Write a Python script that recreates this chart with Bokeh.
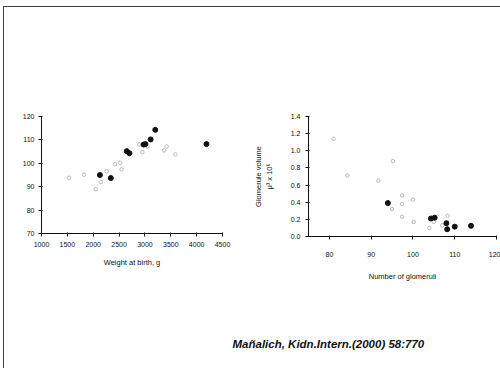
from bokeh.plotting import figure
from bokeh.layouts import row, column
from bokeh.models import FixedTicker, NumeralTickFormatter, Label
from bokeh.embed import file_html
from bokeh.resources import INLINE

# ---- data: left panel (weight at birth vs. y) ----
left_filled_w = [2130, 2340, 2650, 2700, 2975, 3010, 3110, 3200, 4190]
left_filled_y = [95.0, 93.7, 105.2, 104.3, 108.0, 108.2, 110.2, 114.3, 108.2]
left_open_w = [1530, 1820, 2050, 2150, 2260, 2420, 2520, 2550, 2890, 2950, 3050, 3370, 3420, 3590]
left_open_y = [93.8, 95.1, 88.9, 92.0, 96.6, 99.6, 100.2, 97.4, 108.0, 104.8, 107.2, 105.5, 107.2, 103.8]
left_xticks = [1000, 1500, 2000, 2500, 3000, 3500, 4000, 4500]
left_yticks = [70, 80, 90, 100, 110, 120]

# ---- data: right panel (number of glomeruli vs. glomerular volume) ----
right_filled_n = [94.0, 104.3, 105.2, 108.0, 108.2, 110.0, 113.9]
right_filled_v = [0.39, 0.21, 0.22, 0.155, 0.085, 0.115, 0.125]
right_open_n = [81.0, 84.3, 95.2, 91.7, 97.4, 100.0, 97.4, 95.0, 97.4, 100.2, 108.3, 103.9, 107.0, 105.0]
right_open_v = [1.14, 0.71, 0.88, 0.65, 0.48, 0.43, 0.38, 0.32, 0.23, 0.17, 0.24, 0.10, 0.13, 0.17]
right_xticks = [80, 90, 100, 110, 120]
right_yticks = [0.0, 0.2, 0.4, 0.6, 0.8, 1.0, 1.2, 1.4]

FONT = "Liberation Sans"


def style(p):
    p.grid.visible = False
    p.outline_line_color = None
    p.background_fill_color = None
    p.border_fill_color = None
    for ax in (p.xaxis[0], p.yaxis[0]):
        ax.axis_line_color = "#111111"
        ax.axis_line_width = 1
        ax.major_tick_line_color = "#111111"
        ax.major_tick_out = 3
        ax.major_tick_in = 1
        ax.minor_tick_line_color = None
        ax.major_label_text_font = FONT
        ax.major_label_text_font_size = "7px"
        ax.major_label_text_color = "#111111"
        ax.axis_label_text_font = FONT
        ax.axis_label_text_font_size = "7.5px"
        ax.axis_label_text_font_style = "normal"
        ax.axis_label_text_color = "#111111"


# left figure
pl = figure(frame_width=181, frame_height=117, min_border_left=37, min_border_right=26,
            min_border_top=107, min_border_bottom=61,
            x_range=(1000, 4500), y_range=(70, 120),
            output_backend="svg", toolbar_location=None)
style(pl)
pl.xaxis.ticker = FixedTicker(ticks=left_xticks)
pl.yaxis.ticker = FixedTicker(ticks=left_yticks)
pl.xaxis.axis_label = "Weight at birth, g"
pl.xaxis.major_label_standoff = 5
pl.xaxis.axis_label_standoff = 8
pl.yaxis.major_label_standoff = 4
pl.scatter(left_open_w, left_open_y, marker="circle", size=3.5, fill_color=None,
           line_color="#ababab", line_width=0.8)
pl.scatter(left_filled_w, left_filled_y, marker="circle", size=5, fill_color="#111111",
           line_color="#111111")

# right figure
pr = figure(frame_width=188, frame_height=120, min_border_left=60, min_border_right=4,
            min_border_top=109, min_border_bottom=56,
            x_range=(75, 120), y_range=(0, 1.4),
            output_backend="svg", toolbar_location=None)
style(pr)
pr.xaxis.ticker = FixedTicker(ticks=right_xticks)
pr.yaxis.ticker = FixedTicker(ticks=right_yticks)
pr.yaxis.formatter = NumeralTickFormatter(format="0.0")
pr.xaxis.axis_label = "Number of glomeruli"
pr.yaxis.axis_label = "Glomerule volume\nμ³ x 10⁶"
pr.xaxis.major_label_standoff = 12
pr.xaxis.axis_label_standoff = 12
pr.yaxis.major_label_standoff = 5
pr.yaxis.axis_label_standoff = 14
pr.scatter(right_open_n, right_open_v, marker="circle", size=3.5, fill_color=None,
           line_color="#ababab", line_width=0.8)
pr.scatter(right_filled_n, right_filled_v, marker="circle", size=5, fill_color="#111111",
           line_color="#111111")

# citation strip
pc = figure(width=496, height=76, x_range=(0, 1), y_range=(0, 1),
            output_backend="svg", toolbar_location=None, min_border=0)
pc.axis.visible = False
pc.grid.visible = False
pc.outline_line_color = None
pc.add_layout(Label(x=228, y=25, x_units="screen", y_units="screen",
                    text="Mañalich, Kidn.Intern.(2000) 58:770",
                    text_font=FONT, text_font_size="11.5px", text_font_style="bold italic",
                    text_color="#111111", text_baseline="middle", text_align="left"))

layout = column(row(pl, pr, spacing=0), pc, spacing=0,
                styles={"margin-left": "3px", "margin-top": "6px",
                        "border-top": "1px solid #444", "border-left": "1px solid #444"})

open("out.html", "w").write(file_html(layout, INLINE))
